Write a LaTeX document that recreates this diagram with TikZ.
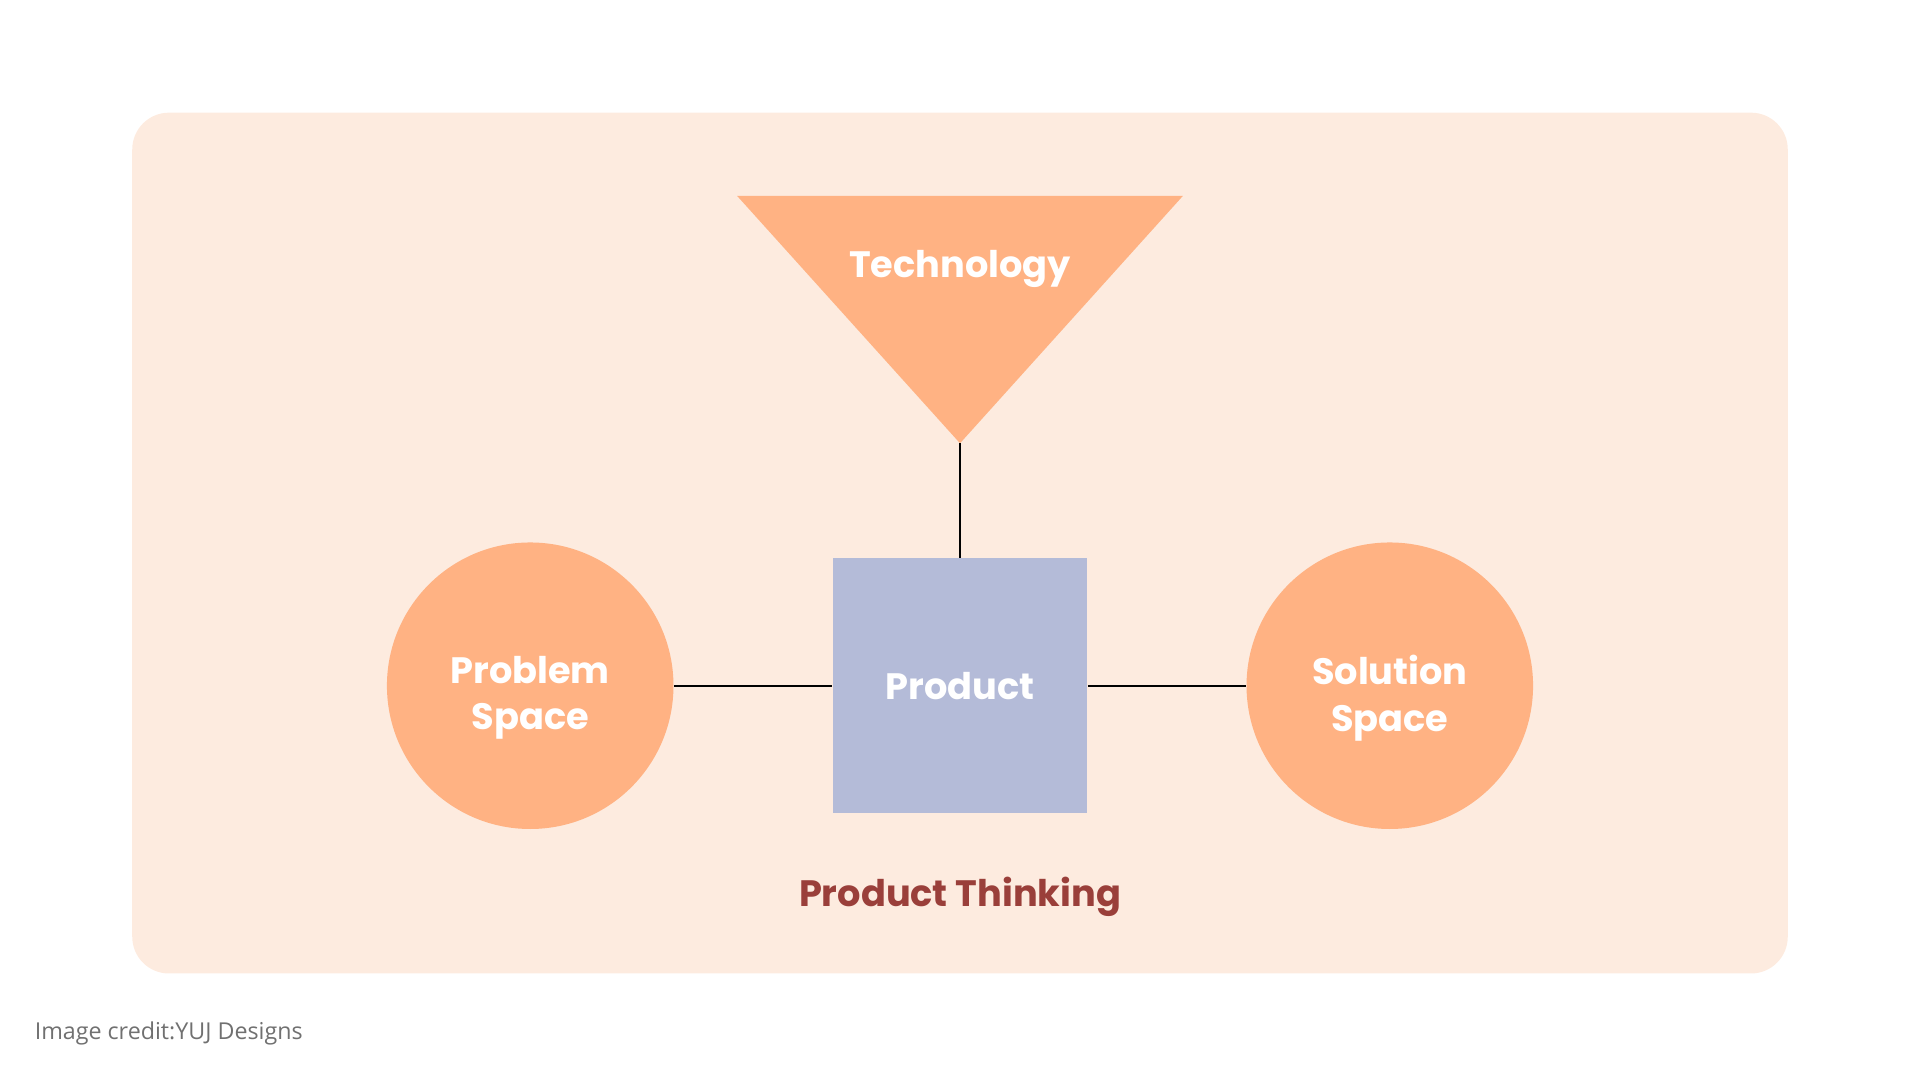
\documentclass[tikz,border=0pt]{standalone}
\usepackage{fontspec}
\setmainfont{Poppins}
\newfontfamily\credfont{Open Sans}
\definecolor{bgpeach}{HTML}{FDEBDF}
\definecolor{orng}{HTML}{FFB283}
\definecolor{lav}{HTML}{B4BBD8}
\definecolor{brn}{HTML}{9A3F3A}
\definecolor{gry}{HTML}{707070}
\begin{document}
\begin{tikzpicture}[x=0.5pt,y=-0.5pt,
  lbl/.style={text=white,font=\fontsize{15}{19}\selectfont\bfseries,align=center},
  conn/.style={draw=black,line width=0.8pt}]
\useasboundingbox (0,0) rectangle (1568,885.3);
\fill[bgpeach,rounded corners=15pt] (108,92) rectangle (1460,795);
\fill[orng] (602,160) -- (966,160) -- (784,362) -- cycle;
\coordinate (apex) at (784,362);
\node[lbl] (tech) at (784,220) {Technology};
\node[fill=lav,minimum width=104pt,minimum height=104pt,inner sep=0] (prod) at (784,560) {};
\node[lbl] at (prod) {Product};
\node[circle,fill=orng,minimum size=117pt,inner sep=0] (prob) at (433,560) {};
\node[lbl] at (433,570) {Problem\\Space};
\node[circle,fill=orng,minimum size=117pt,inner sep=0] (sol) at (1135,560) {};
\node[lbl] at (1135,570) {Solution\\Space};
\draw[conn] (apex) -- (prod.north);
\draw[conn] (prob.east) -- (prod.west);
\draw[conn] (prod.east) -- (sol.west);
\node[text=brn,font=\fontsize{15}{18}\selectfont\bfseries] (title) at (784,732) {Product Thinking};
\node[text=gry,font=\credfont\fontsize{9.5}{11}\selectfont,anchor=west,inner sep=0] (cred) at (28,844) {Image credit:YUJ Designs};
\end{tikzpicture}
\end{document}
